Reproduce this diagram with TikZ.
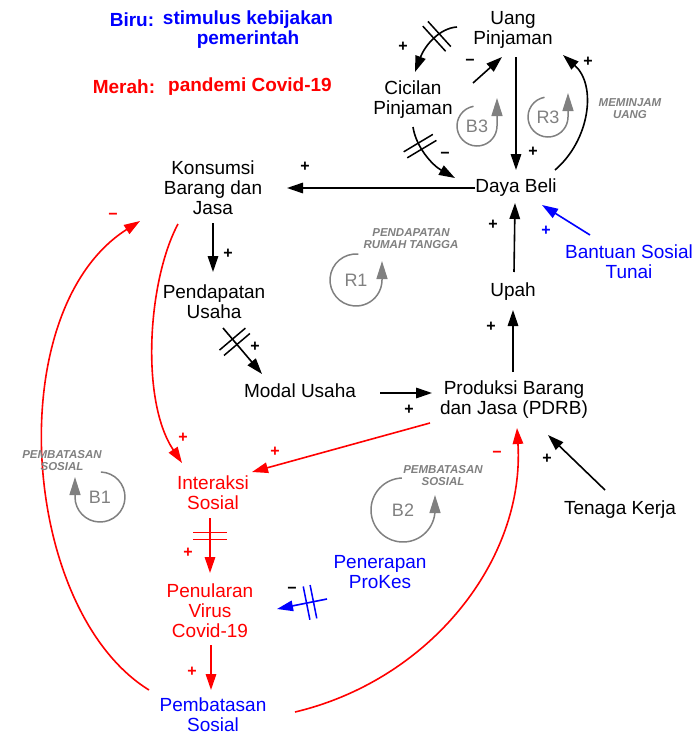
\documentclass[tikz,border=0pt]{standalone}
\usepackage{fontspec}
\setmainfont{Liberation Sans}
\usetikzlibrary{arrows.meta,calc,decorations.markings}
\definecolor{cdpblue}{RGB}{0,0,255}
\definecolor{cdpred}{RGB}{255,0,0}
\definecolor{loopgrey}{RGB}{128,128,128}
\begin{document}
\begin{tikzpicture}[x=1pt,y=-1pt,
  every node/.style={inner sep=0pt, outer sep=0pt},
  var/.style={align=center, font=\fontsize{19}{20}\selectfont, text=black},
  bvar/.style={var, text=cdpblue},
  rvar/.style={var, text=cdpred},
  lnk/.style={-{Triangle[length=16pt,width=10.5pt]}, line width=1.6pt, draw=black},
  rlnk/.style={lnk, draw=cdpred},
  blnk/.style={lnk, draw=cdpblue},
  sgn/.style={font=\bfseries\fontsize{16}{16}\selectfont, text=black},
  rsgn/.style={sgn, text=cdpred},
  bsgn/.style={sgn, text=cdpblue},
  dly/.style 2 args={postaction={decorate, decoration={markings, mark=at position #1 with {\draw[-,#2,line width=1.5pt] (-3.5pt,-17pt) -- (-3.5pt,17pt) (3.5pt,-17pt) -- (3.5pt,17pt);}}}},
  loopc/.style={draw=loopgrey, line width=1.5pt, -{Triangle[length=18pt,width=11pt]}},
  looplbl/.style={text=loopgrey, font=\fontsize{18}{18}\selectfont},
  looptag/.style={text=loopgrey, align=center, font=\bfseries\itshape\fontsize{11.5}{12}\selectfont},
  legb/.style={font=\bfseries\fontsize{19}{20}\selectfont, text=cdpblue, align=center},
  legr/.style={font=\bfseries\fontsize{19}{20}\selectfont, text=cdpred}
]
\useasboundingbox (0,0) rectangle (695,736);

% legend
\node[legb] (biru) at (132,20) {Biru:};
\node[legb] (stim) at (248,30) {stimulus kebijakan\\pemerintah};
\node[legr] (merah) at (124,87) {Merah:};
\node[legr] (pand) at (250,87) {pandemi Covid-19};

% variables
\node[var] (uang) at (513,30) {Uang\\Pinjaman};
\node[var] (cicil) at (413,100) {Cicilan\\Pinjaman};
\node[var] (daya) at (516,188) {Daya Beli};
\node[var] (kons) at (213,188) {Konsumsi\\Barang dan\\Jasa};
\node[var] (pend) at (214,302) {Pendapatan\\Usaha};
\node[var] (modal) at (300,391) {Modal Usaha};
\node[var] (prod) at (514,400) {Produksi Barang\\dan Jasa (PDRB)};
\node[var] (upah) at (513,292) {Upah};
\node[bvar] (bant) at (629,262) {Bantuan Sosial\\Tunai};
\node[var] (tenaga) at (620,510) {Tenaga Kerja};
\node[rvar] (inter) at (213,493) {Interaksi\\Sosial};
\node[rvar] (penul) at (210,611) {Penularan\\Virus\\Covid-19};
\node[bvar] (pemb) at (213,715) {Pembatasan\\Sosial};
\node[bvar] (proke) at (380,572) {Penerapan\\ProKes};

% black links
\draw[lnk] ($(daya)+(-41,0)$) -- ($(kons)+(74,0)$);
\node[sgn] (s1) at (305,167) {+};
\draw[lnk] ($(kons)+(0,35)$) -- ($(pend)+(-1,-30)$);
\node[sgn] (s2) at (228,254) {+};
\draw[lnk, dly={0.3}{black}] ($(pend)+(9,26)$) -- ($(modal)+(-38,-17)$);
\node[sgn] (s3) at (255,347) {+};
\draw[lnk] ($(modal)+(80,2)$) -- ($(prod)+(-82,-7)$);
\node[sgn] (s4) at (409,410) {+};
\draw[lnk] ($(prod)+(-1,-28)$) -- ($(upah)+(0,18)$);
\node[sgn] (s5) at (491,327) {+};
\draw[lnk] ($(upah)+(1,-20)$) -- ($(daya)+(-1,15)$);
\node[sgn] (s6) at (493,225) {+};
\draw[blnk] ($(bant)+(-39,-27)$) -- ($(daya)+(26,17)$);
\node[bsgn] (s7) at (546,231) {+};
\draw[lnk] ($(tenaga)+(-15,-20)$) -- ($(prod)+(34,35)$);
\node[sgn] (s8) at (547,459) {+};
\draw[lnk] ($(daya)+(39,-18)$) .. controls (590,140) and (597,85) .. ($(uang)+(50,25)$);
\node[sgn] (s9) at (588,62) {+};
\draw[lnk] ($(uang)+(3,27)$) -- ($(daya)+(0,-18)$);
\node[sgn] (s10) at (533,152) {+};
\draw[lnk, dly={0.35}{black}] ($(uang)+(-56,-3)$) .. controls (440,28) and (425,45) .. ($(cicil)+(2,-28)$);
\node[sgn] (s11) at (403,47) {+};
\draw[lnk] ($(cicil)+(60,-17)$) -- ($(uang)+(-11,27)$);
\node[sgn] (s12) at (470,62) {−};
\draw[lnk, dly={0.3}{black}] ($(cicil)+(0,27)$) .. controls (416,147) and (432,165) .. ($(daya)+(-61,-10)$);
\node[sgn] (s13) at (445,155) {−};

% red links
\draw[rlnk] ($(kons)+(-35,36)$) .. controls (148,280) and (140,400) .. ($(inter)+(-31,-30)$);
\node[rsgn] (s14) at (183,438) {+};
\draw[rlnk] ($(prod)+(-84,23)$) -- ($(inter)+(39,-21)$);
\node[rsgn] (s15) at (275,452) {+};
\draw[rlnk, dly={0.33}{cdpred}] ($(inter)+(-3,25)$) -- ($(penul)+(0,-38)$);
\node[rsgn] (s16) at (188,553) {+};
\draw[rlnk] ($(penul)+(1,34)$) -- ($(pemb)+(-2,-25)$);
\node[rsgn] (s17) at (192,672) {+};
\draw[rlnk] ($(pemb)+(-64,-25)$) .. controls (20,610) and (0,310) .. ($(kons)+(-73,33)$);
\node[rsgn] (s18) at (113,216) {−};
\draw[rlnk] ($(pemb)+(82,-3)$) .. controls (430,680) and (525,560) .. ($(prod)+(3,28)$);
\node[rsgn] (s19) at (497,454) {−};

% blue link
\draw[blnk, dly={0.34}{cdpblue}] ($(proke)+(-53,27)$) -- ($(penul)+(67,-2)$);
\node[sgn] (s20) at (292,590) {−};

% loop markers
\node[looplbl] (b3) at (477,126) {B3};
\draw[loopc] ($(b3)+(-100:20)$) arc[start angle=-100, end angle=-360, radius=20] -- ++(0,-28);
\node[looplbl] (r3) at (548,117) {R3};
\draw[loopc] ($(r3)+(-100:20)$) arc[start angle=-100, end angle=-360, radius=20] -- ++(0,-24);
\node[looptag] (t3) at (630,109) {MEMINJAM\\UANG};
\node[looplbl] (r1) at (356,280) {R1};
\draw[loopc] ($(r1)+(-85:26)$) arc[start angle=-85, end angle=-360, radius=26] -- ++(0,-19);
\node[looptag] (t1) at (411,239) {PENDAPATAN\\RUMAH TANGGA};
\node[looplbl] (b2) at (403,510) {B2};
\draw[loopc] ($(b2)+(-92:32)$) arc[start angle=-92, end angle=-360, radius=32] -- ++(0,-15);
\node[looptag] (t2) at (443,476) {PEMBATASAN\\SOSIAL};
\node[looplbl] (b1) at (100,497) {B1};
\draw[loopc] ($(b1)+(-88:25)$) arc[start angle=-88, end angle=180, radius=25] -- ++(0,-20);
\node[looptag] (tb1) at (62,461) {PEMBATASAN\\SOSIAL};
\end{tikzpicture}
\end{document}
